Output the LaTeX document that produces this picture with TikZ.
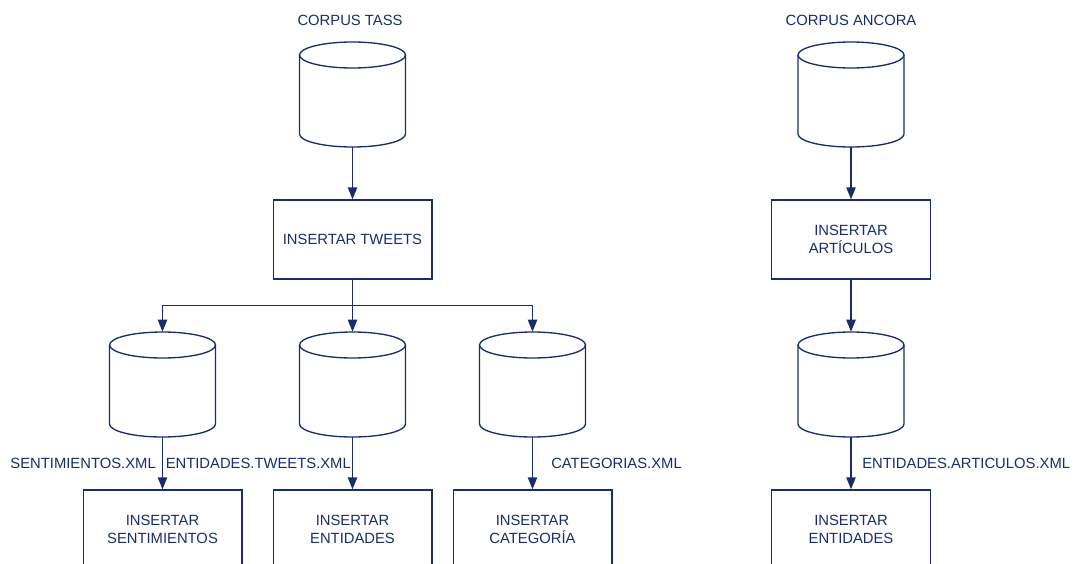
\documentclass[tikz,border=0pt]{standalone}
\usepackage{fontspec}
\setmainfont{Liberation Sans}
\usetikzlibrary{arrows.meta}
\definecolor{navy}{RGB}{25,45,105}
\newcommand\dbcyl[3]{%
  \node[cylbox] (#1) at (#2,#3+52.5) {};
  \draw[ln] (#2-53,#3+13) -- (#2-53,#3+92)
    .. controls (#2-53,#3+99.18) and (#2-29.27,#3+105) .. (#2,#3+105)
    .. controls (#2+29.27,#3+105) and (#2+53,#3+99.18) .. (#2+53,#3+92)
    -- (#2+53,#3+13);
  \draw[ln] (#2,#3+13) ellipse [x radius=53, y radius=13];
}
\begin{document}
\begin{tikzpicture}[x=0.75pt,y=-0.75pt,
  ln/.style={draw=navy,line width=1pt},
  arr/.style={ln,-{Triangle[length=9pt,width=7pt]}},
  cylbox/.style={minimum width=79.5pt,minimum height=78.75pt,inner sep=0pt},
  procbox/.style={draw=navy,line width=1pt,minimum width=119pt,minimum height=59.25pt,inner sep=0pt,align=center,text=navy,font=\fontsize{11.1}{13.5}\selectfont},
  lbl/.style={text=navy,inner sep=0pt,font=\fontsize{11.1}{13.5}\selectfont}]
\useasboundingbox (0,0) rectangle (1075,564);
\clip (0,0) rectangle (1075,564);
% titles
\node[lbl] (t1) at (350,20) {CORPUS TASS};
\node[lbl] (t2) at (851,20) {CORPUS ANCORA};
% cylinders
\dbcyl{ctass}{352.5}{42}
\dbcyl{cancora}{851}{42}
\dbcyl{csent}{162.5}{332}
\dbcyl{cent}{352.5}{332}
\dbcyl{ccat}{532.5}{332}
\dbcyl{cart}{851}{332}
% process boxes
\node[procbox] (tweets) at (352.5,239.5) {INSERTAR TWEETS};
\node[procbox] (articulos) at (851,239.5) {INSERTAR\\ART\'ICULOS};
\node[procbox] (isent) at (162.5,529.5) {INSERTAR\\SENTIMIENTOS};
\node[procbox] (ient) at (352.5,529.5) {INSERTAR\\ENTIDADES};
\node[procbox] (icat) at (532.5,529.5) {INSERTAR\\CATEGOR\'IA};
\node[procbox] (iart) at (851,529.5) {INSERTAR\\ENTIDADES};
% connectors
\coordinate (split) at (352.5,305.5);
\draw[arr] (ctass.south) -- (tweets.north);
\draw[ln] (tweets.south) -- (split);
\draw[arr] (split) -| (csent.north);
\draw[arr] (split) -- (cent.north);
\draw[arr] (split) -| (ccat.north);
\draw[arr] (cancora.south) -- (articulos.north);
\draw[arr] (articulos.south) -- (cart.north);
\draw[arr] (csent.south) -- (isent.north);
\draw[arr] (cent.south) -- (ient.north);
\draw[arr] (ccat.south) -- (icat.north);
\draw[arr] (cart.south) -- (iart.north);
% labels
\node[lbl,anchor=east] (l1) at (156,463.5) {SENTIMIENTOS.XML};
\node[lbl,anchor=west] (l2) at (165.5,463.5) {ENTIDADES.TWEETS.XML};
\node[lbl,anchor=west] (l3) at (551,463.5) {CATEGORIAS.XML};
\node[lbl,anchor=west] (l4) at (862,463.5) {ENTIDADES.ARTICULOS.XML};
\end{tikzpicture}
\end{document}
